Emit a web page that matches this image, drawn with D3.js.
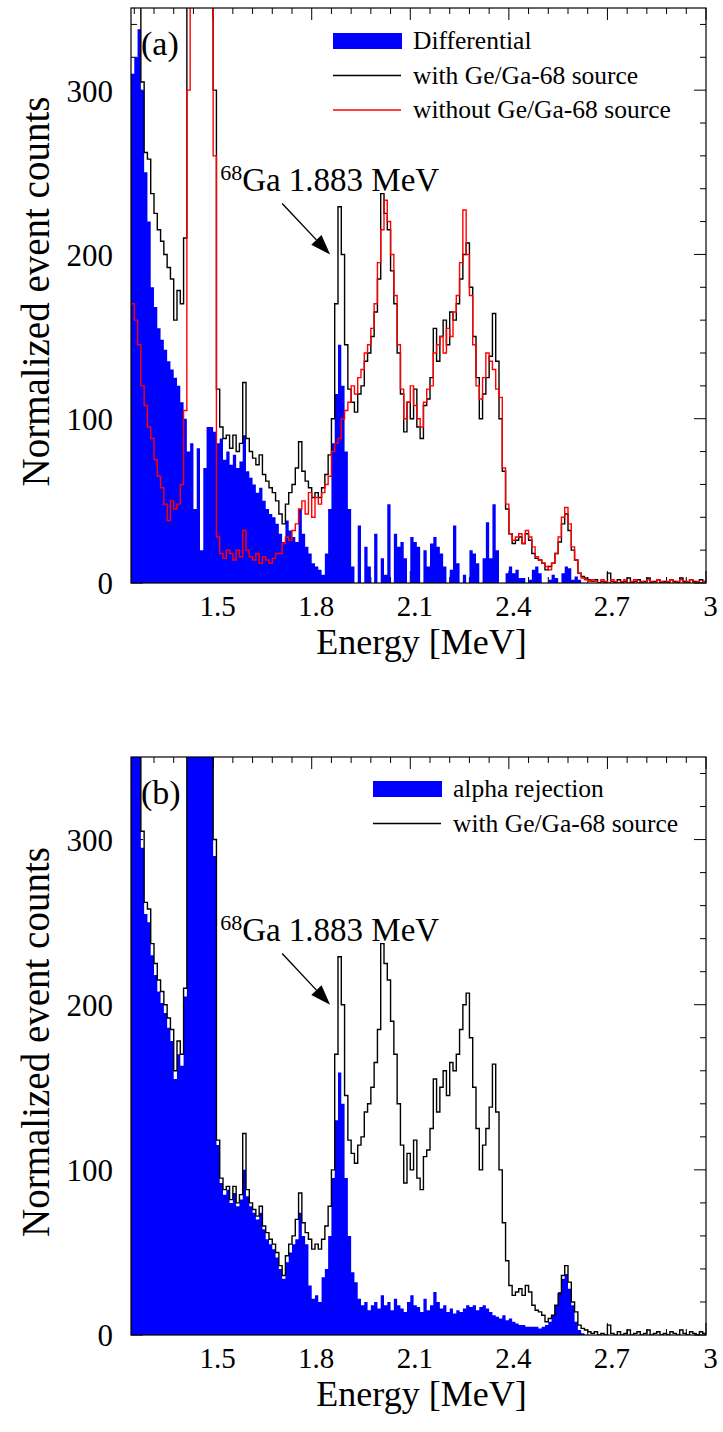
<!DOCTYPE html>
<html><head><meta charset="utf-8">
<script src="https://cdn.jsdelivr.net/npm/d3@7"></script>
<style>
body{margin:0;background:#fff}
svg{display:block}
text{font-family:"Liberation Serif","Times New Roman",serif;fill:#000}
</style>
</head><body>
<svg id="chart" width="723" height="1432"></svg>
<script>
// ---- data (bins of 0.01 MeV starting at 1.25 MeV) ----
const binStart = 1.25, binWidth = 0.01;
const withSource = [430,400,370,305,262,258,237,225,215,208,
 200,192,185,160,178,170,210,380,700,1000,
 1200,1300,1150,900,600,300,118,95,88,90,
 82,90,80,85,122,88,80,76,72,78,
 66,62,58,55,50,42,36,48,55,60,
 70,86,68,62,58,52,55,52,58,66,
 78,100,170,229,200,145,118,110,104,115,
 120,135,140,150,165,185,237,225,215,190,
 170,140,115,92,110,100,118,95,88,108,
 112,125,155,135,150,160,145,165,160,170,
 185,200,207,180,150,125,100,115,125,138,
 164,135,100,68,45,30,24,26,28,24,
 30,26,18,15,14,12,8,10,12,18,
 25,36,42,32,20,14,6,4,3,2,
 1,2,0,1,0,6,1,0,2,0,
 1,3,0,1,2,0,1,3,0,1,
 2,0,1,0,2,1,0,3,1,0,
 2,1,0,2,1];
const withoutSource = [170,160,145,120,108,95,88,75,65,58,
 48,38,50,45,48,60,105,300,650,950,
 1150,1250,1100,850,560,260,28,18,15,20,
 18,14,20,16,32,20,16,14,18,12,
 16,14,12,15,18,18,24,28,26,32,
 36,45,50,42,55,40,52,48,55,60,
 65,80,85,88,100,105,110,120,115,125,
 130,140,145,155,170,195,215,233,220,200,
 175,145,118,100,110,120,108,100,95,110,
 118,120,140,145,150,140,155,150,165,175,
 195,227,200,175,145,120,112,125,140,135,
 130,118,113,70,48,30,26,28,30,24,
 32,28,22,16,14,12,10,8,12,18,
 28,40,46,36,22,14,6,3,2,1,
 2,1,0,2,1,0,2,1,0,1,
 2,0,1,2,0,1,0,2,1,0,
 2,1,0,1,2,0,1,2,0,1,
 2,0,1,0,1];
const differential = [310,320,337,300,250,220,180,168,155,148,
 142,135,130,125,120,110,100,80,85,45,
 82,20,70,95,95,92,85,88,75,80,
 72,78,70,74,90,68,64,60,55,58,
 50,45,42,40,36,30,25,38,32,28,
 25,45,30,22,18,12,10,8,5,18,
 45,85,115,145,120,80,45,10,0,35,
 0,22,10,0,30,0,15,5,48,0,
 30,22,25,15,0,28,25,22,0,20,
 10,24,28,22,18,10,0,8,35,12,
 0,5,0,20,18,12,0,15,37,15,
 48,20,0,0,6,10,6,8,3,3,
 0,2,8,10,6,0,0,2,5,3,
 0,6,10,9,2,4,2,0,0,0,
 0,0,0,0,0,0,0,0,0,0,
 0,0,0,0,0,0,0,0,0,0,
 0,0,0,0,0,0,0,0,0,0,
 0,0,0,0,0];
const alphaRejection = [500,480,450,295,255,250,230,218,208,201,
 195,186,178,155,170,163,205,375,690,990,
 1190,1290,1140,890,590,290,115,92,85,88,
 80,86,78,82,100,84,78,74,70,74,
 64,58,55,52,47,40,34,44,50,55,
 58,74,60,55,30,22,24,20,35,40,
 60,95,130,159,140,95,60,38,32,22,
 18,20,15,18,20,16,24,18,20,15,
 22,18,16,14,20,24,18,17,14,22,
 15,18,26,20,16,18,14,16,13,15,
 14,16,18,17,18,15,17,18,16,14,
 12,11,10,12,9,10,8,7,6,6,
 5,5,5,5,4,5,6,8,12,18,
 26,34,37,28,18,8,3,1,0,0,
 0,0,0,0,0,0,0,0,0,0,
 0,0,0,0,0,0,0,0,0,0,
 0,0,0,0,0,0,0,0,0,0,
 0,0,0,0,0];
const xTickLabels = [1.5, 1.8, 2.1, 2.4, 2.7, 3];
const yTickLabels = [0, 100, 200, 300];
const xDomain = [1.25, 3.0];
const yDomain = [0, 350];

const svg = d3.select("#chart");
svg.append("rect").attr("width",723).attr("height",1432).attr("fill","#fff");

function toPoints(vals){
  const pts = vals.map((v,i)=>[binStart + i*binWidth, v]);
  pts.push([binStart + vals.length*binWidth, vals[vals.length-1]]);
  return pts;
}

function drawPanel(cfg){
  const {left, top, width, height, id} = cfg;
  const x = d3.scaleLinear().domain(xDomain).range([0, width]);
  const y = d3.scaleLinear().domain(yDomain).range([height, 0]);
  const g = svg.append("g").attr("transform",`translate(${left},${top})`);
  g.append("clipPath").attr("id","clip"+id).append("rect")
    .attr("width",width).attr("height",height);

  // ticks (inward, on all four sides)
  const tg = g.append("g").attr("stroke","#000").attr("stroke-width",1);
  const xMinor = d3.range(0, 30).map(k => 1.26 + k*0.06).filter(t => t <= 3.0001);
  xMinor.forEach(t=>{
    const major = Math.abs((t-1.5)/0.3 - Math.round((t-1.5)/0.3)) < 1e-6;
    const len = major ? 12 : 6;
    tg.append("line").attr("x1",x(t)).attr("x2",x(t)).attr("y1",0).attr("y2",len);
    tg.append("line").attr("x1",x(t)).attr("x2",x(t)).attr("y1",height).attr("y2",height-len);
  });
  d3.range(0, 351, 20).forEach(v=>{
    const len = v % 100 === 0 ? 12 : 6;
    tg.append("line").attr("x1",0).attr("x2",len).attr("y1",y(v)).attr("y2",y(v));
    tg.append("line").attr("x1",width).attr("x2",width-len).attr("y1",y(v)).attr("y2",y(v));
  });

  const plot = g.append("g").attr("clip-path",`url(#clip${id})`);
  const area = d3.area().curve(d3.curveStepAfter)
    .x(d=>x(d[0])).y0(y(0)).y1(d=>y(Math.max(0,d[1])));
  const line = d3.line().curve(d3.curveStepAfter)
    .x(d=>x(d[0])).y(d=>y(d[1]));

  plot.append("path").datum(toPoints(cfg.fill))
    .attr("d",area).attr("fill","#0000ff").attr("stroke","none");
  cfg.lines.forEach(l=>{
    plot.append("path").datum(toPoints(l.values))
      .attr("d",line).attr("fill","none").attr("stroke",l.color)
      .attr("stroke-width",1.4).attr("stroke-linejoin","miter");
  });

  // frame
  g.append("rect").attr("width",width).attr("height",height)
    .attr("fill","none").attr("stroke","#000").attr("stroke-width",1.2);

  // axis labels
  const xAxis = d3.axisBottom(x).tickValues(xTickLabels).tickSize(0)
    .tickFormat(d=>String(d));
  const xa = g.append("g").attr("transform",`translate(0,${height})`).call(xAxis);
  xa.select(".domain").remove();
  xa.selectAll("text").attr("font-size",29).attr("dx",4).attr("y",33).attr("dy",0)
    .style("font-family",'"Liberation Serif",serif').attr("fill","#000");
  const yAxis = d3.axisLeft(y).tickValues(yTickLabels).tickSize(0)
    .tickFormat(d=>String(d));
  const ya = g.append("g").call(yAxis);
  ya.select(".domain").remove();
  ya.selectAll("text").attr("font-size",31).attr("x",-18).attr("dy","0.35em")
    .style("font-family",'"Liberation Serif",serif').attr("fill","#000");

  g.append("text").attr("x",width/2+3).attr("y",height+71)
    .attr("text-anchor","middle").attr("font-size",36).text("Energy [MeV]");
  g.append("text").attr("transform",`translate(${49-left},${height/2-4}) rotate(-90)`)
    .attr("text-anchor","middle").attr("font-size",39).text("Normalized event counts");

  // panel tag
  g.append("text").attr("x",10).attr("y",47).attr("font-size",34).text(cfg.tag);

  // annotation with arrow
  const tipX = x(1.856), tipY = y(200);
  const tailX = x(1.71), tailY = y(231);
  const ang = Math.atan2(tipY-tailY, tipX-tailX);
  const hl = 20, hw = 7;
  const bx = tipX - hl*Math.cos(ang), by = tipY - hl*Math.sin(ang);
  g.append("line").attr("x1",tailX).attr("y1",tailY).attr("x2",bx).attr("y2",by)
    .attr("stroke","#000").attr("stroke-width",1.4);
  g.append("path").attr("d",`M${tipX},${tipY}L${bx - hw*Math.sin(ang)},${by + hw*Math.cos(ang)}L${bx + hw*Math.sin(ang)},${by - hw*Math.cos(ang)}Z`)
    .attr("fill","#000");
  const ann = g.append("text").attr("x",tailX-62).attr("y",tailY-13).attr("font-size",33);
  ann.append("tspan").attr("font-size",22).attr("dy",-11).text("68");
  ann.append("tspan").attr("dy",11).text("Ga 1.883 MeV");

  // legend
  const lg = g.append("g").attr("transform",`translate(${cfg.legX},${cfg.legY})`);
  cfg.legend.forEach((e,i)=>{
    const yy = i*34.5;
    if (e.type==="fill") {
      lg.append("rect").attr("x",0).attr("y",yy-8).attr("width",69).attr("height",16).attr("fill","#0000ff");
    } else {
      lg.append("line").attr("x1",0).attr("x2",68).attr("y1",yy).attr("y2",yy)
        .attr("stroke",e.color).attr("stroke-width",1.5);
    }
    lg.append("text").attr("x",80).attr("y",yy+8).attr("font-size",25.5).text(e.label);
  });
}

drawPanel({id:"a", left:131, top:8, width:575, height:575, tag:"(a)",
  fill: differential,
  lines:[{values:withSource,color:"#000"},{values:withoutSource,color:"#ff0000"}],
  legX:202, legY:33,
  legend:[{type:"fill",label:"Differential"},
          {type:"line",color:"#000",label:"with Ge/Ga-68 source"},
          {type:"line",color:"#ff0000",label:"without Ge/Ga-68 source"}]
});
drawPanel({id:"b", left:131, top:757, width:575, height:578, tag:"(b)",
  fill: alphaRejection,
  lines:[{values:withSource,color:"#000"}],
  legX:242, legY:32,
  legend:[{type:"fill",label:"alpha rejection"},
          {type:"line",color:"#000",label:"with Ge/Ga-68 source"}]
});
</script>
</body></html>
